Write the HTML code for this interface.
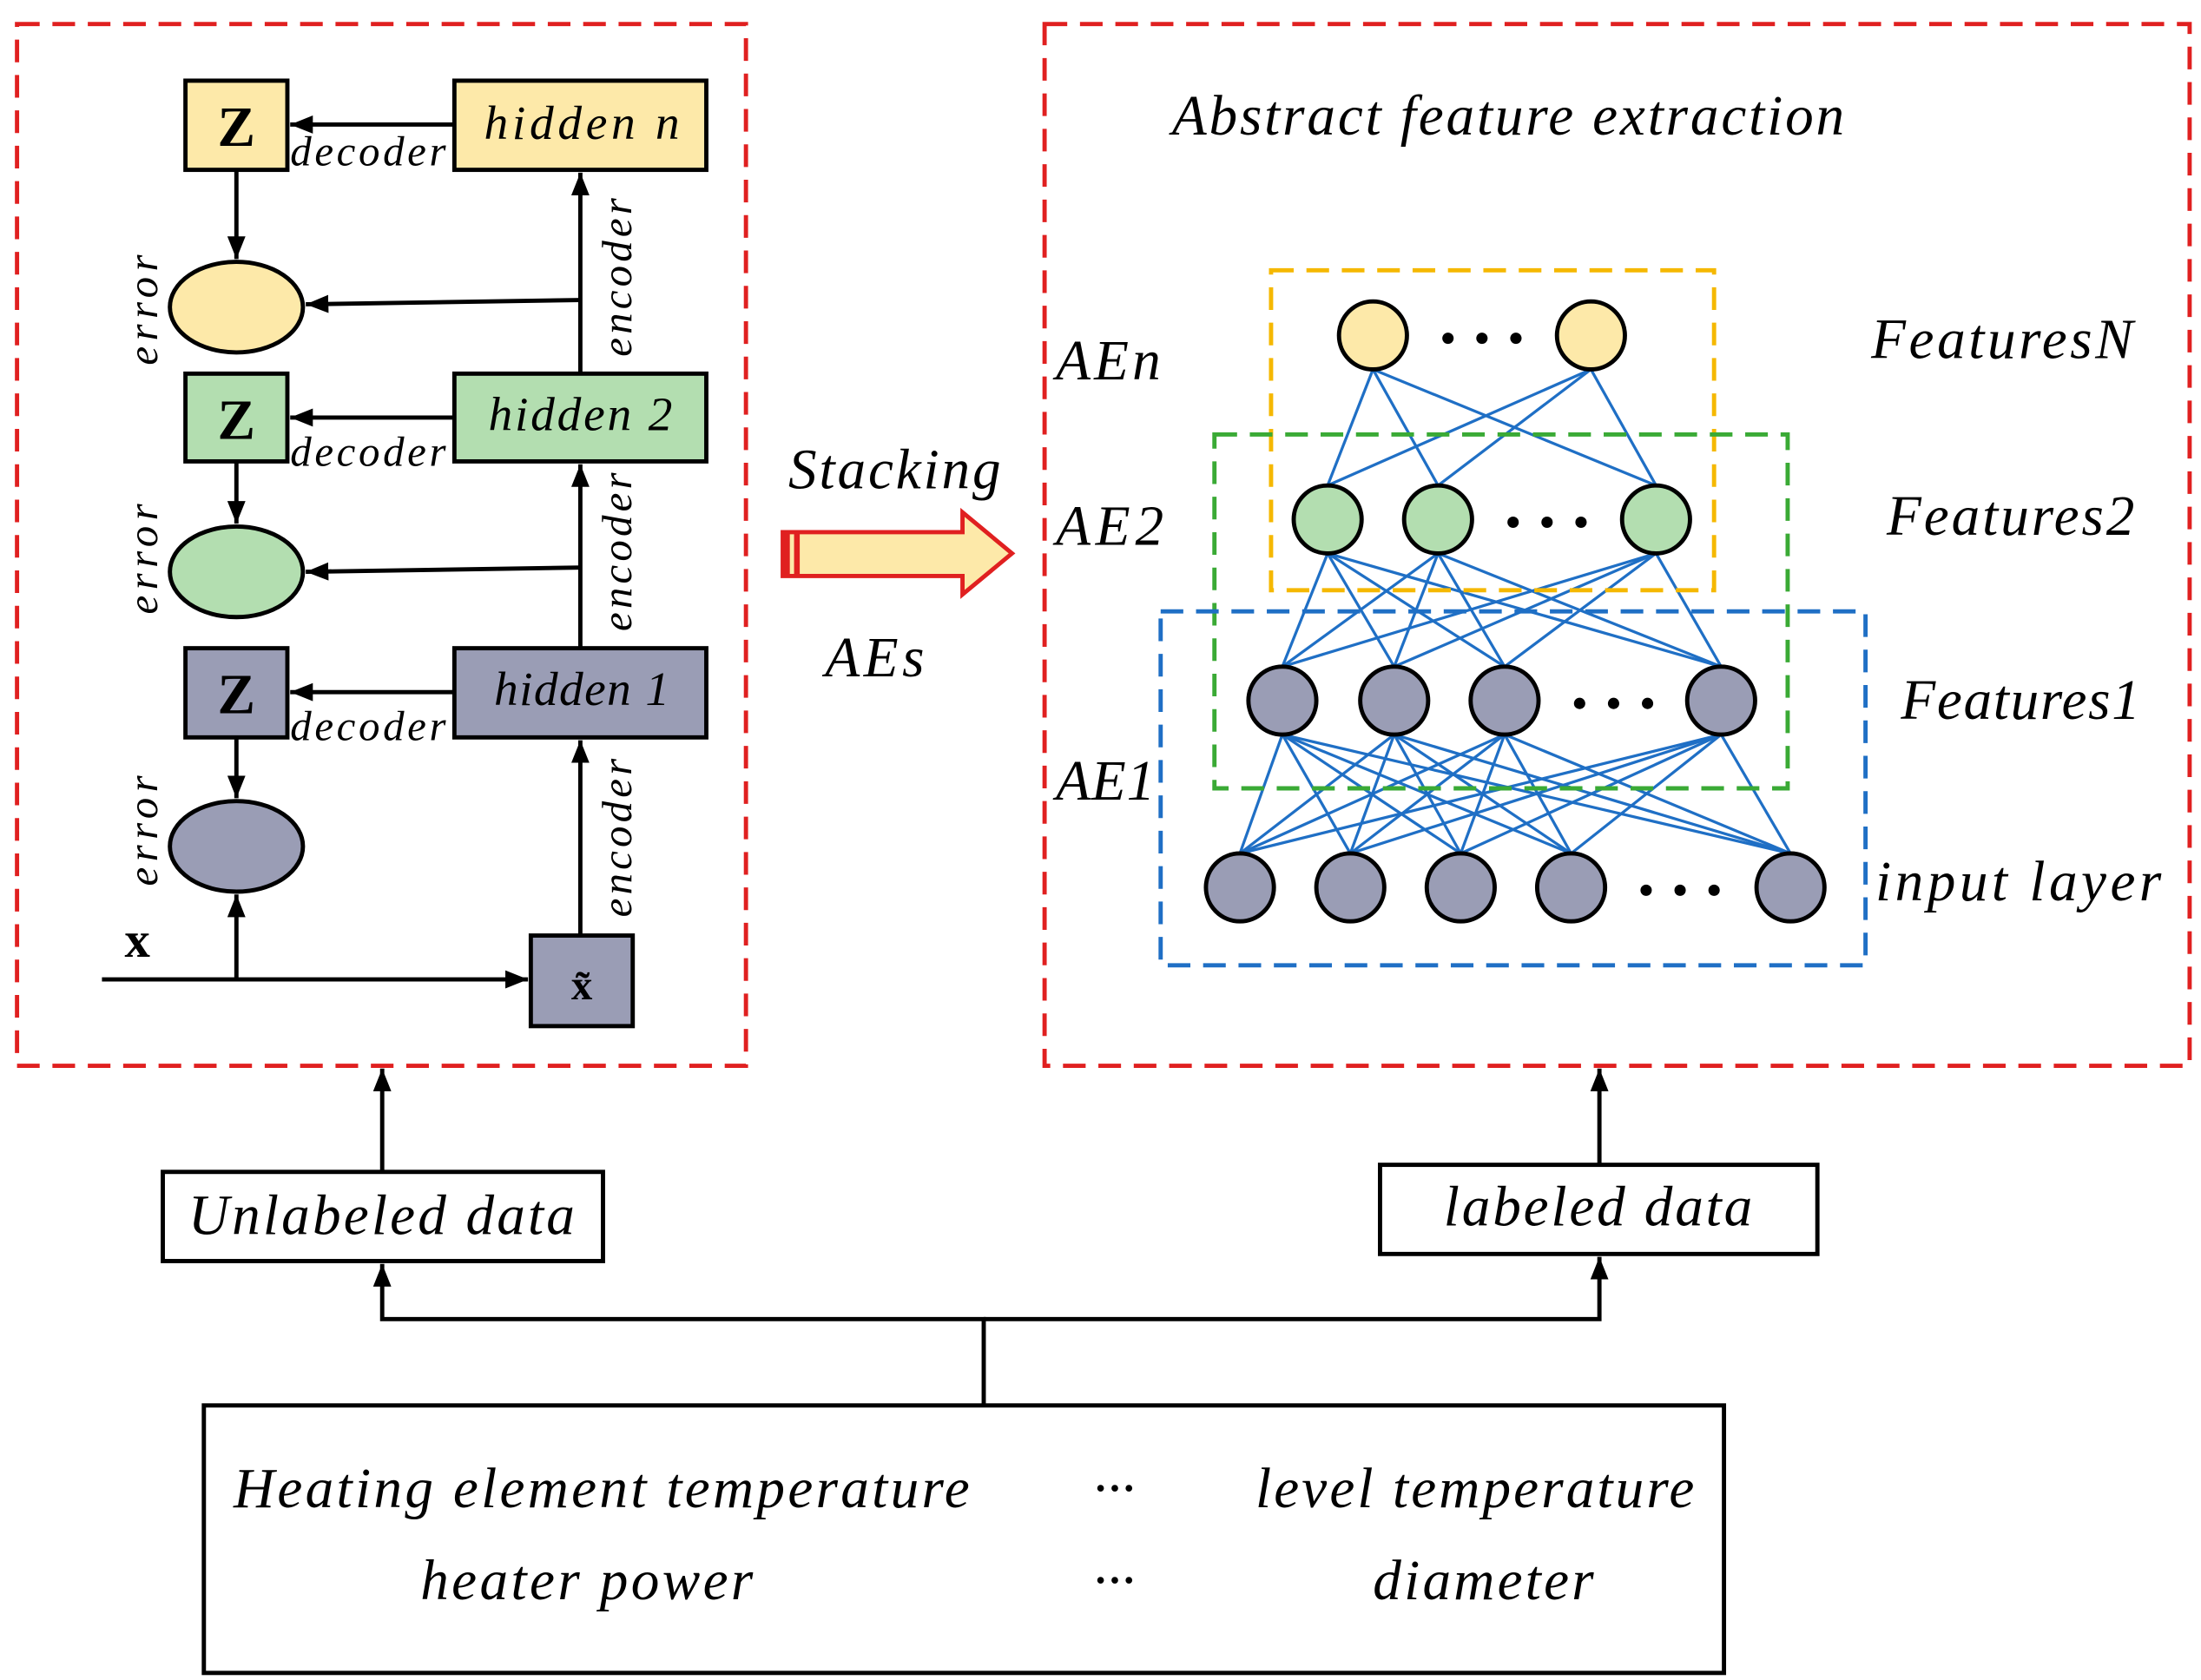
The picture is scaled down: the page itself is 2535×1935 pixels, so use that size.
<!DOCTYPE html>
<html><head><meta charset="utf-8"><style>html,body{margin:0;padding:0;background:#fff}svg{display:block}</style></head><body>
<svg width="2535" height="1935" viewBox="0 0 1555 1187" xmlns="http://www.w3.org/2000/svg" font-family="Liberation Serif, serif">
<defs>
<marker id="b" viewBox="0 0 10 10" markerWidth="16" markerHeight="16" refX="10" refY="5" orient="auto" markerUnits="userSpaceOnUse"><path d="M0,1 L10,5 L0,9 z" fill="#000"/></marker></defs>
<rect x="12" y="17" width="515" height="736" fill="none" stroke="#e02020" stroke-width="3" stroke-dasharray="16,9"/>
<rect x="738" y="17" width="809" height="736" fill="none" stroke="#e02020" stroke-width="3" stroke-dasharray="16,9"/>
<g stroke="#000" stroke-width="3">
<rect x="131" y="57" width="72" height="63" fill="#fde9a9"/><rect x="321" y="57" width="178" height="63" fill="#fde9a9"/>
<rect x="131" y="264" width="72" height="62" fill="#b3deb0"/><rect x="321" y="264" width="178" height="62" fill="#b3deb0"/>
<rect x="131" y="458" width="72" height="63" fill="#9a9db5"/><rect x="321" y="458" width="178" height="63" fill="#9a9db5"/>
<rect x="375" y="661" width="72" height="64" fill="#9a9db5"/>
<ellipse cx="167" cy="217" rx="47" ry="32" fill="#fde9a9"/><ellipse cx="167" cy="404" rx="47" ry="32" fill="#b3deb0"/><ellipse cx="167" cy="598" rx="47" ry="32" fill="#9a9db5"/>
</g>
<g stroke="#000" stroke-width="3" fill="none" marker-end="url(#b)">
<line x1="321" y1="88" x2="205" y2="88"/><line x1="321" y1="295" x2="205" y2="295"/><line x1="321" y1="489" x2="205" y2="489"/>
<line x1="167" y1="120" x2="167" y2="183"/><line x1="167" y1="326" x2="167" y2="370"/><line x1="167" y1="521" x2="167" y2="564"/>
<line x1="410" y1="212" x2="216" y2="215"/><line x1="410" y1="401" x2="216" y2="404"/>
<line x1="410" y1="264" x2="410" y2="122"/><line x1="410" y1="458" x2="410" y2="328"/><line x1="410" y1="661" x2="410" y2="523"/>
<line x1="72" y1="692" x2="373" y2="692"/><line x1="167" y1="692" x2="167" y2="632"/>
<line x1="270" y1="828" x2="270" y2="755"/><line x1="1130" y1="823" x2="1130" y2="755"/>
<polyline points="695,993 695,932 270,932 270,893"/><polyline points="695,932 1130,932 1130,888"/>
</g>
<g font-weight="bold" font-size="40" text-anchor="middle"><text x="167" y="103">Z</text><text x="167" y="310">Z</text><text x="167" y="504">Z</text></g>
<text x="411" y="706" font-size="30" font-weight="bold" text-anchor="middle">x̃</text>
<text x="97" y="676" font-size="36" font-weight="bold" text-anchor="middle">x</text>
<g font-style="italic" font-size="34" lengthAdjust="spacing">
<text x="342" y="98" textLength="138">hidden  n</text><text x="345" y="304" textLength="130">hidden  2</text><text x="349" y="498" textLength="124">hidden  1</text></g>
<g font-style="italic" font-size="30">
<text x="205" y="117" textLength="110">decoder</text><text x="205" y="329" textLength="110">decoder</text><text x="205" y="523" textLength="110">decoder</text>
<text transform="translate(446,252) rotate(-90)" textLength="112">encoder</text><text transform="translate(446,446) rotate(-90)" textLength="112">encoder</text><text transform="translate(446,648) rotate(-90)" textLength="112">encoder</text>
<text transform="translate(111,258) rotate(-90)" textLength="78">error</text><text transform="translate(111,434) rotate(-90)" textLength="78">error</text><text transform="translate(111,626) rotate(-90)" textLength="78">error</text></g>
<path d="M553,376 L680,376 L680,362 L715,391 L680,420 L680,407 L553,407 z" fill="#fde9a9" stroke="#e02020" stroke-width="3"/>
<rect x="552" y="376" width="6" height="31" fill="#e02020"/><rect x="561" y="376" width="4" height="31" fill="#e02020"/>
<g font-style="italic" font-size="40">
<text x="557" y="345" textLength="150">Stacking</text><text x="583" y="478" textLength="70">AEs</text>
<text x="828" y="95" textLength="475">Abstract feature extraction</text>
<text x="746" y="268" textLength="74">AEn</text><text x="746" y="385" textLength="76">AE2</text><text x="746" y="565" textLength="70">AE1</text>
<text x="1322" y="253" textLength="185">FeaturesN</text><text x="1333" y="378" textLength="175">Features2</text><text x="1343" y="508" textLength="169">Features1</text><text x="1325" y="636" textLength="202">input  layer</text>
<text x="165" y="1065" textLength="520">Heating element temperature</text><text x="772" y="1065">···</text><text x="887" y="1065" textLength="310">level temperature</text>
<text x="297" y="1130" textLength="235">heater power</text><text x="772" y="1130">···</text><text x="970" y="1130" textLength="156">diameter</text></g>
<g stroke="#000" stroke-width="3" fill="#fff"><rect x="115" y="828" width="311" height="63"/><rect x="975" y="823" width="309" height="63"/><rect x="144" y="993" width="1074" height="189" fill="none"/></g>
<g font-style="italic" font-size="40"><text x="133" y="872" textLength="273">Unlabeled data</text><text x="1020" y="866" textLength="218">labeled data</text></g>
<g stroke="#1f6fc5" stroke-width="2">
<line x1="970" y1="261" x2="938" y2="343"/><line x1="970" y1="261" x2="1016" y2="343"/><line x1="970" y1="261" x2="1170" y2="343"/>
<line x1="1124" y1="261" x2="938" y2="343"/><line x1="1124" y1="261" x2="1016" y2="343"/><line x1="1124" y1="261" x2="1170" y2="343"/>
<line x1="938" y1="391" x2="906" y2="471"/><line x1="938" y1="391" x2="985" y2="471"/><line x1="938" y1="391" x2="1063" y2="471"/><line x1="938" y1="391" x2="1216" y2="471"/>
<line x1="1016" y1="391" x2="906" y2="471"/><line x1="1016" y1="391" x2="985" y2="471"/><line x1="1016" y1="391" x2="1063" y2="471"/><line x1="1016" y1="391" x2="1216" y2="471"/>
<line x1="1170" y1="391" x2="906" y2="471"/><line x1="1170" y1="391" x2="985" y2="471"/><line x1="1170" y1="391" x2="1063" y2="471"/><line x1="1170" y1="391" x2="1216" y2="471"/>
<line x1="906" y1="519" x2="876" y2="603"/><line x1="906" y1="519" x2="954" y2="603"/><line x1="906" y1="519" x2="1032" y2="603"/><line x1="906" y1="519" x2="1110" y2="603"/><line x1="906" y1="519" x2="1265" y2="603"/>
<line x1="985" y1="519" x2="876" y2="603"/><line x1="985" y1="519" x2="954" y2="603"/><line x1="985" y1="519" x2="1032" y2="603"/><line x1="985" y1="519" x2="1110" y2="603"/><line x1="985" y1="519" x2="1265" y2="603"/>
<line x1="1063" y1="519" x2="876" y2="603"/><line x1="1063" y1="519" x2="954" y2="603"/><line x1="1063" y1="519" x2="1032" y2="603"/><line x1="1063" y1="519" x2="1110" y2="603"/><line x1="1063" y1="519" x2="1265" y2="603"/>
<line x1="1216" y1="519" x2="876" y2="603"/><line x1="1216" y1="519" x2="954" y2="603"/><line x1="1216" y1="519" x2="1032" y2="603"/><line x1="1216" y1="519" x2="1110" y2="603"/><line x1="1216" y1="519" x2="1265" y2="603"/>
</g>
<g stroke="#000" stroke-width="3">
<circle cx="970" cy="237" r="24" fill="#fde9a9"/><circle cx="1124" cy="237" r="24" fill="#fde9a9"/>
<circle cx="938" cy="367" r="24" fill="#b3deb0"/><circle cx="1016" cy="367" r="24" fill="#b3deb0"/><circle cx="1170" cy="367" r="24" fill="#b3deb0"/>
<g fill="#9a9db5"><circle cx="906" cy="495" r="24"/><circle cx="985" cy="495" r="24"/><circle cx="1063" cy="495" r="24"/><circle cx="1216" cy="495" r="24"/>
<circle cx="876" cy="627" r="24"/><circle cx="954" cy="627" r="24"/><circle cx="1032" cy="627" r="24"/><circle cx="1110" cy="627" r="24"/><circle cx="1265" cy="627" r="24"/></g>
</g>
<g fill="#000"><circle cx="1023" cy="239" r="4"/><circle cx="1047" cy="239" r="4"/><circle cx="1071" cy="239" r="4"/>
<circle cx="1069" cy="369" r="4"/><circle cx="1093" cy="369" r="4"/><circle cx="1117" cy="369" r="4"/>
<circle cx="1116" cy="497" r="4"/><circle cx="1140" cy="497" r="4"/><circle cx="1164" cy="497" r="4"/>
<circle cx="1163" cy="629" r="4"/><circle cx="1187" cy="629" r="4"/><circle cx="1211" cy="629" r="4"/></g>
<g fill="none" stroke-width="3" stroke-dasharray="16,9">
<rect x="898" y="191" width="313" height="226" stroke="#f5b800"/>
<rect x="858" y="307" width="405" height="250" stroke="#3aaa35"/>
<rect x="820" y="432" width="498" height="250" stroke="#1f6fc5"/></g>
</svg>
</body></html>
